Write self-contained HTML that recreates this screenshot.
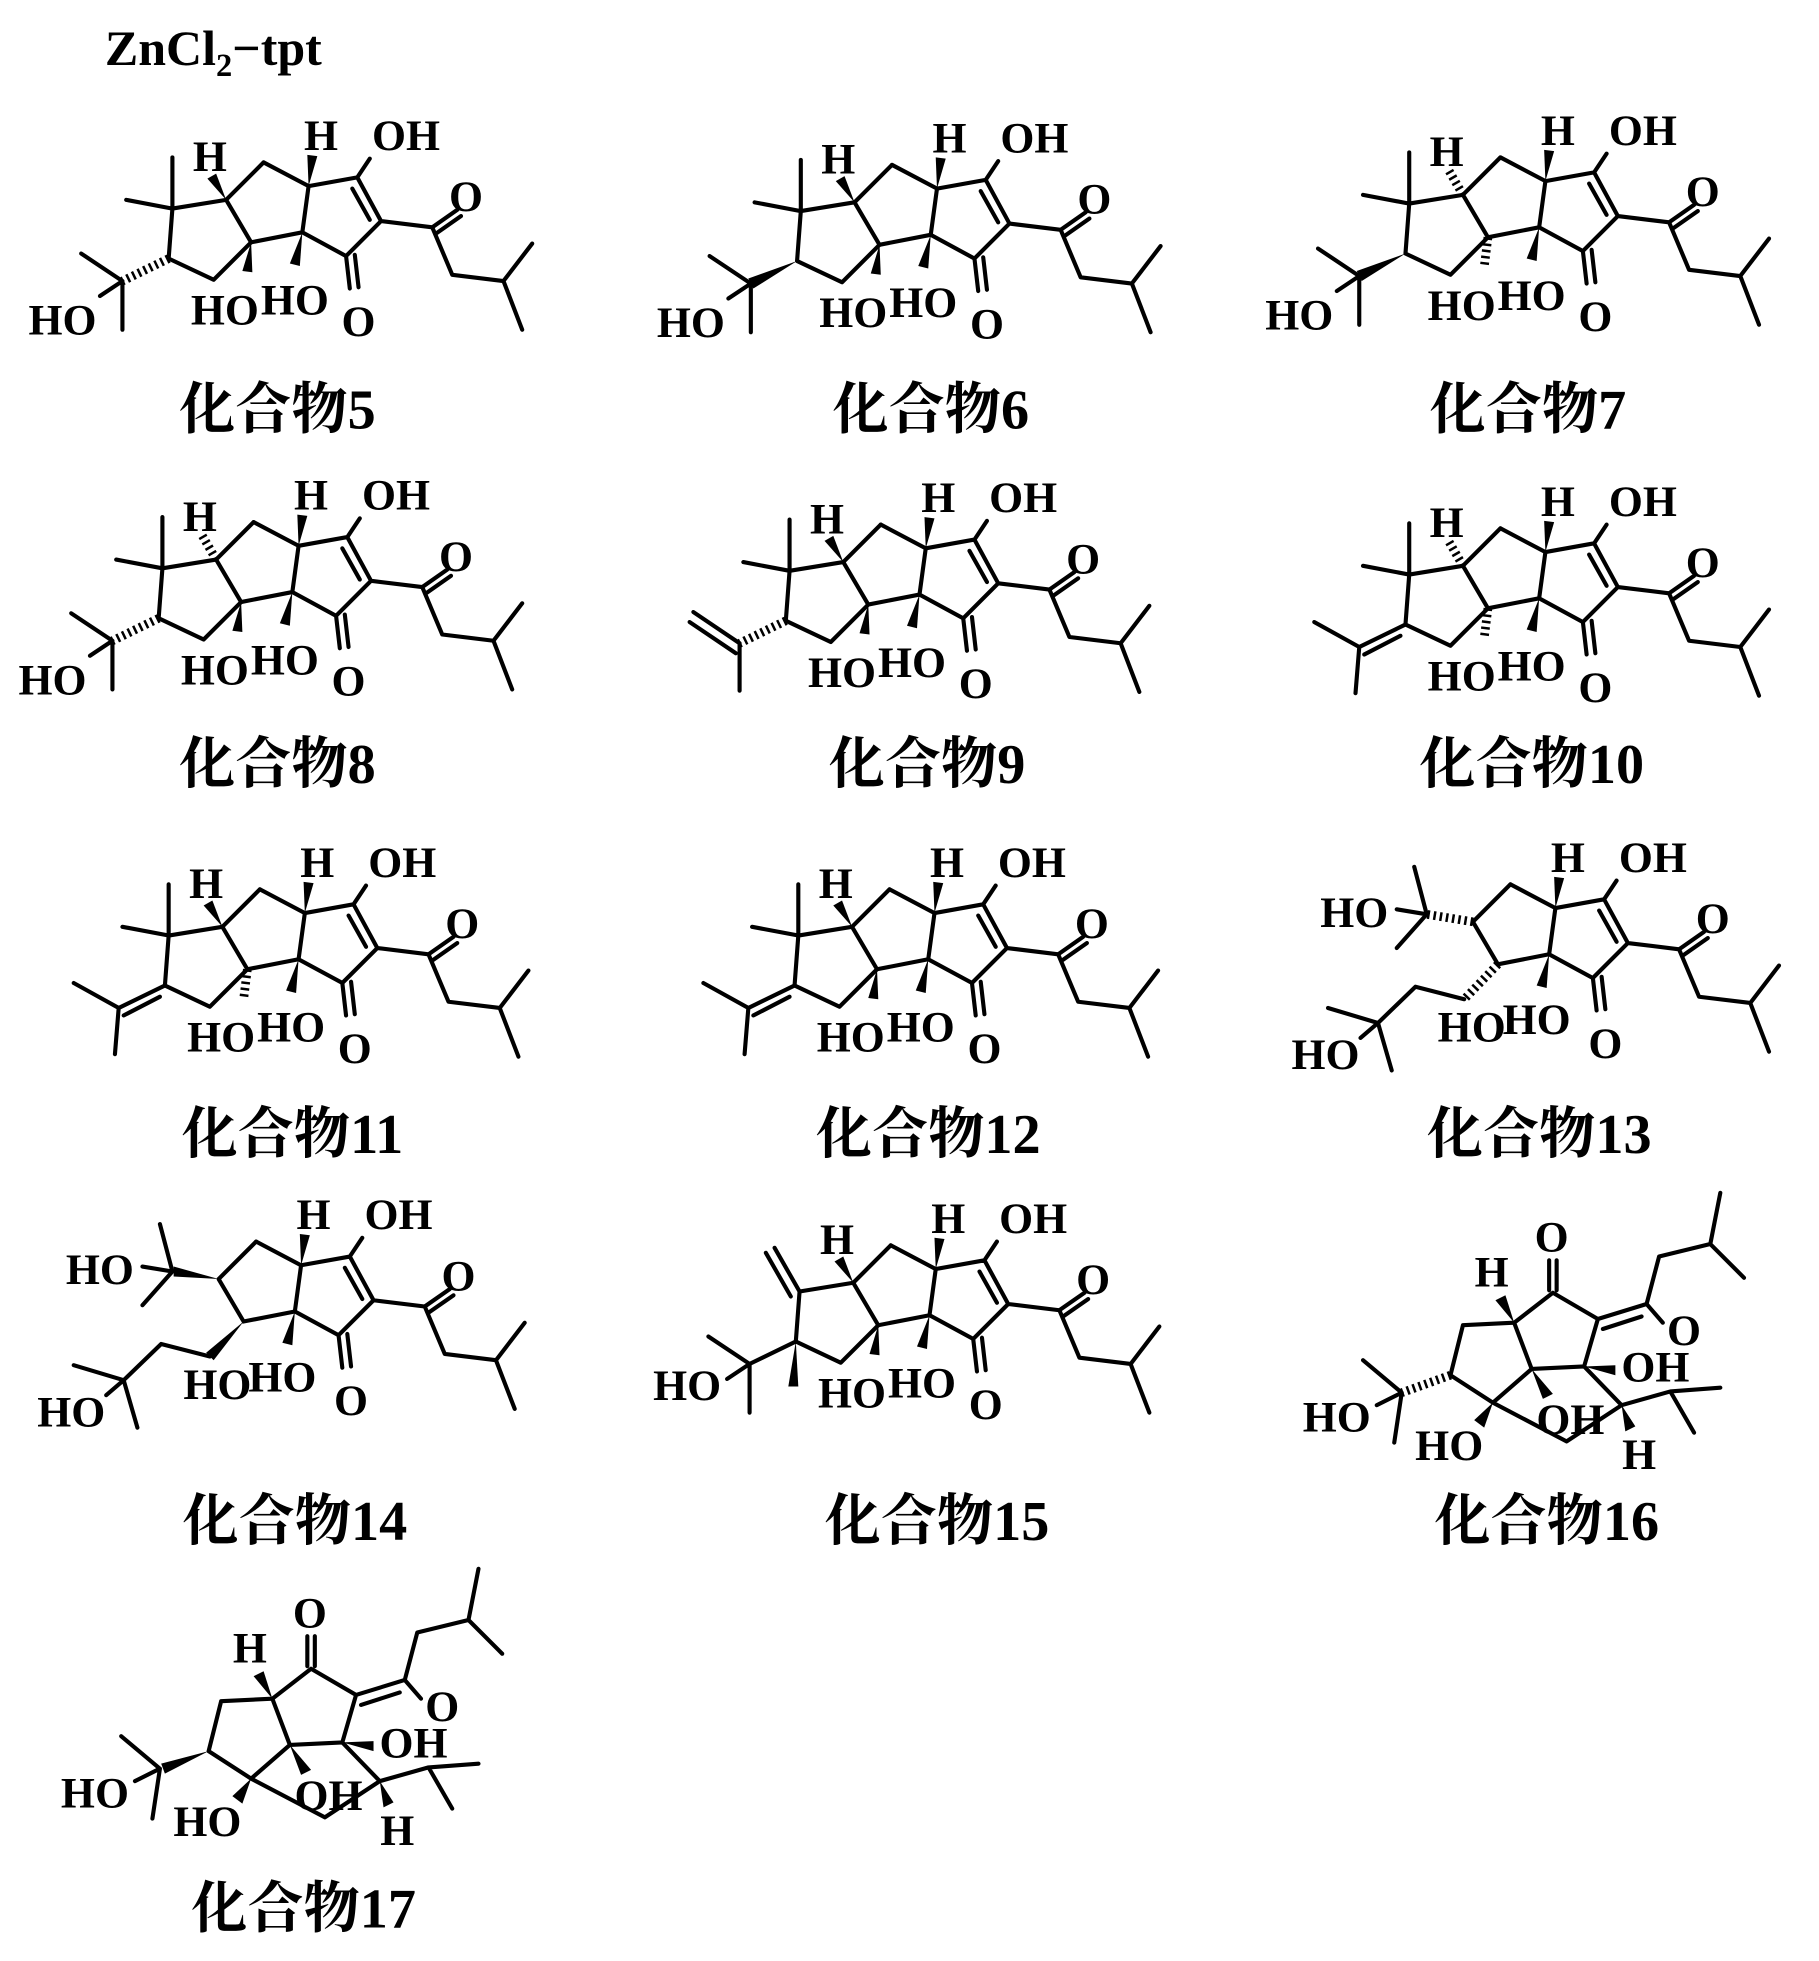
<!DOCTYPE html>
<html><head><meta charset="utf-8"><style>
html,body{margin:0;padding:0;background:#fff;}
svg{display:block;}
.t{font-family:"Liberation Serif","Noto Serif CJK SC",serif;font-weight:bold;font-size:35px;text-anchor:middle;fill:#000;}
.lb{font-family:"Liberation Serif","Noto Serif CJK SC",serif;font-weight:bold;font-size:45px;text-anchor:middle;fill:#000;}
</style></head><body>
<svg width="1819" height="1961" viewBox="0 0 1456 1570" preserveAspectRatio="none" xmlns="http://www.w3.org/2000/svg" xmlns:xlink="http://www.w3.org/1999/xlink">
<defs>
<g id="R">
<path d="M211,130 L247,149 L286,142 L305,177 L277,205 L242,186 L247,149 M282,151 L296,176 M286,142 L296,127 M277,205 L280,231 M284,204 L287,230 M305,177 L346,182 L366,168 M349,187 L369,173 M346,182 L362,220 L403,225 L426,195 M403,225 L418,264" fill="none" stroke="#000" stroke-width="3.3" stroke-linecap="round" stroke-linejoin="round"/>
<polygon points="247,149 254,125 246,124"/>
<polygon points="242,186 240,213 232,211"/>
</g>
<path id="Cc" d="M181,160 L211,130 M242,186 L201,194 L181,160" fill="none" stroke="#000" stroke-width="3.3" stroke-linecap="round"/>
<path id="L" d="M181,160 L138,167 L135,207 L171,224 L201,194" fill="none" stroke="#000" stroke-width="3.3" stroke-linecap="round" stroke-linejoin="round"/>
<path id="M2" d="M138,167 L138,126 M138,167 L101,160" fill="none" stroke="#000" stroke-width="3.3" stroke-linecap="round"/>
<polygon id="wH" points="181,160 173,139 166,143"/>
<line id="hH" x1="181" y1="160" x2="170" y2="141" stroke="#000" stroke-width="7" stroke-dasharray="2 3"/>
<polygon id="wB" points="201,194 202,218 194,217"/>
<line id="hB" x1="201" y1="194" x2="198" y2="218" stroke="#000" stroke-width="7" stroke-dasharray="2 3"/>
<path id="sc" d="M98,225 L65,203 M98,225 L98,264 M98,225 L80,237" fill="none" stroke="#000" stroke-width="3.3" stroke-linecap="round"/>
<line id="hS" x1="135" y1="207" x2="98" y2="225" stroke="#000" stroke-width="7" stroke-dasharray="2 3"/>
<polygon id="wS" points="135,207 100,229 96,221"/>
<path id="ipy" d="M135,207 L98,225 M131,216 L102,231 M98,225 L62,205 M98,225 L95,262" fill="none" stroke="#000" stroke-width="3.3" stroke-linecap="round"/>
<g id="Q">
<path d="M144,154 L134,116 M144,154 L120,181 M144,154 L120,150 M174,222 L135,212 L105,241 L65,229 M105,241 L116,279 M105,241 L91,253" fill="none" stroke="#000" stroke-width="3.3" stroke-linecap="round" stroke-linejoin="round"/>
</g>
<g id="S16">
<path d="M1161,1101 L1171,1061 L1212,1059 L1243,1035 L1279,1056 L1268,1094 L1226,1096 L1212,1059 M1226,1096 L1195,1123 L1161,1101 M1195,1123 L1254,1154 L1298,1125 L1268,1094 M1298,1125 L1337,1114 L1377,1111 M1337,1114 L1356,1147 M1279,1056 L1318,1044 L1331,1059 M1283,1064 L1314,1054 M1318,1044 L1328,1006 L1369,996 L1377,955 M1369,996 L1396,1023 M1240,1033 L1240,1009 M1246,1033 L1246,1009 M1122,1115 L1091,1089 M1122,1115 L1116,1155 M1122,1115 L1102,1125" fill="none" stroke="#000" stroke-width="3.3" stroke-linecap="round" stroke-linejoin="round"/>
<polygon points="1212,1059 1205,1037 1197,1041"/>
<polygon points="1268,1094 1293,1093 1293,1101"/>
<polygon points="1226,1096 1243,1116 1235,1120"/>
<polygon points="1298,1125 1309,1142 1301,1146"/>
<polygon points="1195,1123 1188,1143 1180,1137"/>
</g>
</defs>

<text x="84" y="52" style="font-family:'Liberation Serif',serif;font-size:40px;font-weight:bold">ZnCl<tspan font-size="26" dy="9">2</tspan><tspan dy="-9">−tpt</tspan></text>

<!-- 5 -->
<g transform="translate(0,0)">
<use xlink:href="#R"/><use xlink:href="#Cc"/><use xlink:href="#L"/><use xlink:href="#M2"/><use xlink:href="#wH"/><use xlink:href="#wB"/><use xlink:href="#hS"/><use xlink:href="#sc"/>
<text class="t" x="168" y="137">H</text><text class="t" x="257" y="120">H</text><text class="t" x="325" y="120">OH</text><text class="t" x="373" y="169">O</text><text class="t" x="287" y="269">O</text>
<text class="t" x="180" y="260">HO</text><text class="t" x="236" y="252">HO</text><text class="t" x="50" y="268">HO</text>
</g>
<text class="lb" x="222" y="343">化合物5</text>

<!-- 6 -->
<g transform="translate(503,2)">
<use xlink:href="#R"/><use xlink:href="#Cc"/><use xlink:href="#L"/><use xlink:href="#M2"/><use xlink:href="#wH"/><use xlink:href="#wB"/><use xlink:href="#wS"/><use xlink:href="#sc"/>
<text class="t" x="168" y="137">H</text><text class="t" x="257" y="120">H</text><text class="t" x="325" y="120">OH</text><text class="t" x="373" y="169">O</text><text class="t" x="287" y="269">O</text>
<text class="t" x="180" y="260">HO</text><text class="t" x="236" y="252">HO</text><text class="t" x="50" y="268">HO</text>
</g>
<text class="lb" x="745" y="343">化合物6</text>

<!-- 7 -->
<g transform="translate(990,-4)">
<use xlink:href="#R"/><use xlink:href="#Cc"/><use xlink:href="#L"/><use xlink:href="#M2"/><use xlink:href="#hH"/><use xlink:href="#hB"/><use xlink:href="#wS"/><use xlink:href="#sc"/>
<text class="t" x="168" y="137">H</text><text class="t" x="257" y="120">H</text><text class="t" x="325" y="120">OH</text><text class="t" x="373" y="169">O</text><text class="t" x="287" y="269">O</text>
<text class="t" x="180" y="260">HO</text><text class="t" x="236" y="252">HO</text><text class="t" x="50" y="268">HO</text>
</g>
<text class="lb" x="1223" y="343">化合物7</text>

<!-- 8 -->
<g transform="translate(-8,288)">
<use xlink:href="#R"/><use xlink:href="#Cc"/><use xlink:href="#L"/><use xlink:href="#M2"/><use xlink:href="#hH"/><use xlink:href="#wB"/><use xlink:href="#hS"/><use xlink:href="#sc"/>
<text class="t" x="168" y="137">H</text><text class="t" x="257" y="120">H</text><text class="t" x="325" y="120">OH</text><text class="t" x="373" y="169">O</text><text class="t" x="287" y="269">O</text>
<text class="t" x="180" y="260">HO</text><text class="t" x="236" y="252">HO</text><text class="t" x="50" y="268">HO</text>
</g>
<text class="lb" x="222" y="627">化合物8</text>

<!-- 9 -->
<g transform="translate(494,290)">
<use xlink:href="#R"/><use xlink:href="#Cc"/><use xlink:href="#L"/><use xlink:href="#M2"/><use xlink:href="#wH"/><use xlink:href="#wB"/><use xlink:href="#hS"/>
<path d="M98,225 L61,200 M95,233 L58,208 M98,225 L98,263" fill="none" stroke="#000" stroke-width="3.3" stroke-linecap="round"/>
<text class="t" x="168" y="137">H</text><text class="t" x="257" y="120">H</text><text class="t" x="325" y="120">OH</text><text class="t" x="373" y="169">O</text><text class="t" x="287" y="269">O</text>
<text class="t" x="180" y="260">HO</text><text class="t" x="236" y="252">HO</text>
</g>
<text class="lb" x="742" y="627">化合物9</text>

<!-- 10 -->
<g transform="translate(990,293)">
<use xlink:href="#R"/><use xlink:href="#Cc"/><use xlink:href="#L"/><use xlink:href="#M2"/><use xlink:href="#hH"/><use xlink:href="#hB"/><use xlink:href="#ipy"/>
<text class="t" x="168" y="137">H</text><text class="t" x="257" y="120">H</text><text class="t" x="325" y="120">OH</text><text class="t" x="373" y="169">O</text><text class="t" x="287" y="269">O</text>
<text class="t" x="180" y="260">HO</text><text class="t" x="236" y="252">HO</text>
</g>
<text class="lb" x="1226" y="627">化合物10</text>

<!-- 11 -->
<g transform="translate(-3,582)">
<use xlink:href="#R"/><use xlink:href="#Cc"/><use xlink:href="#L"/><use xlink:href="#M2"/><use xlink:href="#wH"/><use xlink:href="#hB"/><use xlink:href="#ipy"/>
<text class="t" x="168" y="137">H</text><text class="t" x="257" y="120">H</text><text class="t" x="325" y="120">OH</text><text class="t" x="373" y="169">O</text><text class="t" x="287" y="269">O</text>
<text class="t" x="180" y="260">HO</text><text class="t" x="236" y="252">HO</text>
</g>
<text class="lb" x="234" y="923">化合物11</text>

<!-- 12 -->
<g transform="translate(501,582)">
<use xlink:href="#R"/><use xlink:href="#Cc"/><use xlink:href="#L"/><use xlink:href="#M2"/><use xlink:href="#wH"/><use xlink:href="#wB"/><use xlink:href="#ipy"/>
<text class="t" x="168" y="137">H</text><text class="t" x="257" y="120">H</text><text class="t" x="325" y="120">OH</text><text class="t" x="373" y="169">O</text><text class="t" x="287" y="269">O</text>
<text class="t" x="180" y="260">HO</text><text class="t" x="236" y="252">HO</text>
</g>
<text class="lb" x="743" y="923">化合物12</text>

<!-- 13 -->
<g transform="translate(998,578)">
<use xlink:href="#R"/><use xlink:href="#Cc"/><use xlink:href="#Q"/>
<line x1="181" y1="160" x2="144" y2="154" stroke="#000" stroke-width="7" stroke-dasharray="2 3"/>
<line x1="201" y1="194" x2="174" y2="222" stroke="#000" stroke-width="7" stroke-dasharray="2 3"/>
<text class="t" x="257" y="120">H</text><text class="t" x="325" y="120">OH</text><text class="t" x="373" y="169">O</text><text class="t" x="287" y="269">O</text>
<text class="t" x="180" y="256">HO</text><text class="t" x="232" y="250">HO</text><text class="t" x="86" y="164">HO</text><text class="t" x="63" y="278">HO</text>
</g>
<text class="lb" x="1232" y="923">化合物13</text>

<!-- 14 -->
<g transform="translate(-6,864)">
<use xlink:href="#R"/><use xlink:href="#Cc"/><use xlink:href="#Q"/>
<polygon points="181,160 145,158 145,150"/>
<polygon points="201,194 177,225 171,219"/>
<text class="t" x="257" y="120">H</text><text class="t" x="325" y="120">OH</text><text class="t" x="373" y="169">O</text><text class="t" x="287" y="269">O</text>
<text class="t" x="180" y="256">HO</text><text class="t" x="232" y="250">HO</text><text class="t" x="86" y="164">HO</text><text class="t" x="63" y="278">HO</text>
</g>
<text class="lb" x="236" y="1233">化合物14</text>

<!-- 15 -->
<g transform="translate(502,867)">
<use xlink:href="#R"/><use xlink:href="#Cc"/><use xlink:href="#L"/><use xlink:href="#wH"/><use xlink:href="#wB"/><use xlink:href="#sc"/>
<path d="M138,167 L118,132 M131,171 L111,136 M135,207 L98,225" fill="none" stroke="#000" stroke-width="3.3" stroke-linecap="round"/>
<polygon points="135,207 137,243 129,243"/>
<text class="t" x="168" y="137">H</text><text class="t" x="257" y="120">H</text><text class="t" x="325" y="120">OH</text><text class="t" x="373" y="169">O</text><text class="t" x="287" y="269">O</text>
<text class="t" x="180" y="260">HO</text><text class="t" x="236" y="252">HO</text><text class="t" x="48" y="254">HO</text>
</g>
<text class="lb" x="750" y="1233">化合物15</text>

<!-- 16 -->
<g>
<use xlink:href="#S16"/>
<line x1="1161" y1="1101" x2="1122" y2="1115" stroke="#000" stroke-width="7" stroke-dasharray="2 3"/>
<text class="t" x="1194" y="1030">H</text><text class="t" x="1242" y="1002">O</text><text class="t" x="1348" y="1077">O</text><text class="t" x="1325" y="1106">OH</text><text class="t" x="1257" y="1148">OH</text><text class="t" x="1312" y="1176">H</text><text class="t" x="1160" y="1169">HO</text><text class="t" x="1070" y="1146">HO</text>
</g>
<text class="lb" x="1238" y="1233">化合物16</text>

<!-- 17 -->
<g transform="translate(-994,301)">
<use xlink:href="#S16"/>
<polygon points="1161,1101 1123,1111 1126,1119"/>
<text class="t" x="1194" y="1030">H</text><text class="t" x="1242" y="1002">O</text><text class="t" x="1348" y="1077">O</text><text class="t" x="1325" y="1106">OH</text><text class="t" x="1257" y="1148">OH</text><text class="t" x="1312" y="1176">H</text><text class="t" x="1160" y="1169">HO</text><text class="t" x="1070" y="1146">HO</text>
</g>
<text class="lb" x="243" y="1543">化合物17</text>
</svg>
</body></html>
